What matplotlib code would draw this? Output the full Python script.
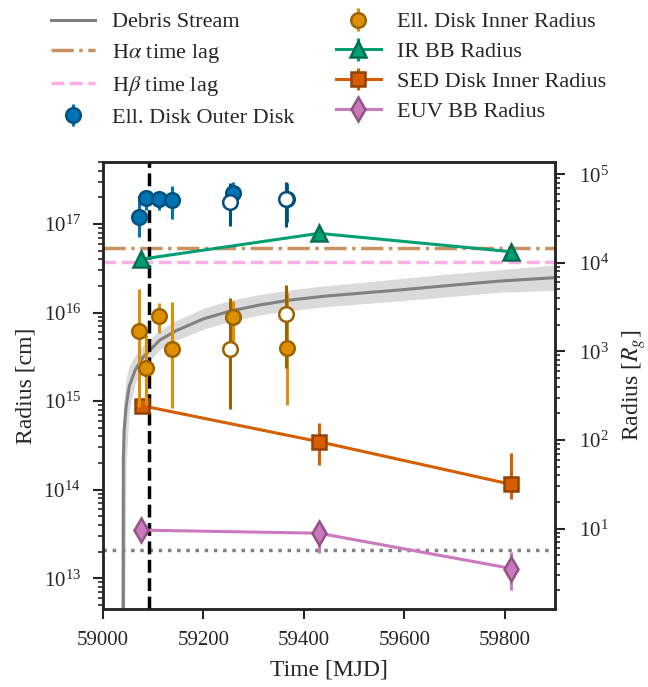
import numpy as np
import matplotlib
matplotlib.use('Agg')
import matplotlib.pyplot as plt
from matplotlib.colors import to_rgb

plt.rcParams['font.family'] = ['Liberation Serif', 'DejaVu Serif']
plt.rcParams['mathtext.fontset'] = 'stix'
plt.rcParams['font.size'] = 15
plt.rcParams['text.color'] = '#262626'
plt.rcParams['axes.labelcolor'] = '#262626'
plt.rcParams['xtick.color'] = '#262626'
plt.rcParams['ytick.color'] = '#262626'

RG_CM = 3.65e12  # gravitational radius in cm
Y_LIM = (4.5e12, 5e17)

# debris stream curve + band
stream_mjd = [59040.3, 59040.5, 59042, 59046, 59052, 59064, 59080, 59113, 59147,
              59200, 59253, 59312, 59372, 59440, 59525, 59600, 59657, 59720,
              59790, 59900]
stream_r = [4e12, 2.2e14, 4.7e14, 8.7e14, 1.46e15, 2.25e15, 3.15e15, 4.9e15,
            6.3e15, 8.5e15, 1.04e16, 1.22e16, 1.385e16, 1.53e16, 1.68e16,
            1.82e16, 1.95e16, 2.1e16, 2.27e16, 2.48e16]
band_mjd = [59034.5, 59037, 59040.5, 59042, 59046, 59052, 59064, 59080, 59113,
            59147, 59200, 59253, 59312, 59372, 59440, 59525, 59600, 59657,
            59720, 59790, 59900]
band_lo = [1e12, 1e12, 1e12, 1e12, 2.0e14, 8.0e14, 1.6e15, 2.4e15, 3.8e15,
           4.9e15, 6.5e15, 8.0e15, 9.4e15, 1.06e16, 1.16e16, 1.27e16, 1.37e16,
           1.46e16, 1.57e16, 1.70e16, 1.78e16]
band_hi = [1e12, 2.5e14, 8e14, 1.1e15, 1.8e15, 2.5e15, 3.3e15, 4.3e15, 6.3e15,
           8.2e15, 1.12e16, 1.38e16, 1.6e16, 1.8e16, 2.0e16, 2.22e16, 2.45e16,
           2.63e16, 2.83e16, 3.05e16, 3.45e16]

HALPHA_LAG = 5.3e16
HBETA_LAG = 3.76e16
ISCO_CM = 2.1e13
T_PEAK = 59091

# elliptical disk fit, outer radius (filled / open = two fits)
outer_mjd = [59071, 59086, 59111, 59137, 59259, 59367]
outer_r = [1.21e17, 1.98e17, 1.90e17, 1.87e17, 2.22e17, 1.90e17]
outer_lo = [7.2e16, 1.45e17, 1.45e17, 1.14e17, 1.86e17, 1.06e17]
outer_hi = [2.1e17, 2.45e17, 2.3e17, 2.7e17, 2.98e17, 2.88e17]
outer2_mjd = [59252, 59364]
outer2_r = [1.79e17, 1.91e17]
outer2_lo = [9.5e16, 9.3e16]
outer2_hi = [2.9e17, 3.0e17]

# elliptical disk fit, inner radius
inner_mjd = [59071, 59085, 59111, 59137, 59259, 59366]
inner_r = [6.2e15, 2.35e15, 9.2e15, 3.86e15, 8.85e15, 3.96e15]
inner_lo = [8.7e14, 9.0e14, 5.9e15, 8.3e14, 4.7e15, 9.06e14]
inner_hi = [1.83e16, 5.6e15, 1.27e16, 1.33e16, 1.36e16, 1.65e16]
inner2_mjd = [59252, 59364]
inner2_r = [3.86e15, 9.6e15]
inner2_lo = [8.1e14, 2.35e15]
inner2_hi = [1.45e16, 2.05e16]

ir_mjd = [59075, 59430, 59813]
ir_r = [4.0e16, 7.85e16, 4.87e16]
ir_lo = [3.8e16, 7.3e16, 4.6e16]
ir_hi = [4.2e16, 8.3e16, 5.1e16]

sed_mjd = [59077, 59430, 59813]
sed_r = [8.9e14, 3.49e14, 1.15e14]
sed_lo = [8.0e14, 1.9e14, 7.8e13]
sed_hi = [9.8e14, 5.6e14, 2.6e14]

euv_mjd = [59076, 59430, 59813]
euv_r = [3.5e13, 3.23e13, 1.29e13]
euv_lo = [3.2e13, 1.95e13, 7.4e12]
euv_hi = [3.8e13, 4.2e13, 2.0e13]


def dark(c, f=0.7):
    return tuple(v * f for v in to_rgb(c))


def yerr(r, lo, hi):
    r = np.asarray(r)
    return [r - np.asarray(lo), np.asarray(hi) - r]


fig = plt.figure(figsize=(6.48, 6.87), dpi=100)
ax = fig.add_axes([0.159, 0.1135, 0.6975, 0.6505])

ax.fill_between(band_mjd, band_lo, band_hi, color='#dadada', lw=0, zorder=1)
h_stream, = ax.plot(stream_mjd, stream_r, color='gray', lw=2.2, zorder=2, label='Debris Stream')
h_ha = ax.axhline(HALPHA_LAG, color='#ca9161', ls='-.', lw=2.5, zorder=2, label=r'H$\alpha$ time lag')
h_hb = ax.axhline(HBETA_LAG, color='#fbafe4', ls='--', lw=2.5, zorder=2, label=r'H$\beta$ time lag')
ax.axhline(ISCO_CM, color='gray', ls=':', lw=2.5, zorder=2)
ax.axvline(T_PEAK, color='black', ls='--', lw=2.5, zorder=3)

blue = '#0173b2'
orange = '#de8f05'
green = '#029e73'
red = '#d55e00'
pink = '#cc78bc'

kw = dict(ms=10.5, mew=1.8, elinewidth=2.2, capsize=0, zorder=5)
h_outer = ax.errorbar(outer_mjd, outer_r, yerr=yerr(outer_r, outer_lo, outer_hi), fmt='o',
                      color=blue, mfc=blue, mec=dark(blue), ecolor=blue,
                      label='Ell. Disk Outer Disk', **kw)
ax.errorbar(outer2_mjd, outer2_r, yerr=yerr(outer2_r, outer2_lo, outer2_hi), fmt='o',
            color=dark(blue), mfc='white', mec=dark(blue), ecolor=dark(blue), **kw)
h_inner = ax.errorbar(inner_mjd, inner_r, yerr=yerr(inner_r, inner_lo, inner_hi), fmt='o',
                      color=orange, mfc=orange, mec=dark(orange), ecolor=orange,
                      label='Ell. Disk Inner Radius', **kw)
ax.errorbar(inner2_mjd, inner2_r, yerr=yerr(inner2_r, inner2_lo, inner2_hi), fmt='o',
            color=dark(orange), mfc='white', mec=dark(orange), ecolor=dark(orange), **kw)

lkw = dict(lw=2.2, elinewidth=2.2, capsize=0, mew=1.8, zorder=4)
h_ir = ax.errorbar(ir_mjd, ir_r, yerr=yerr(ir_r, ir_lo, ir_hi), fmt='-^', color=green,
                   mec=dark(green), ms=11.5, label='IR BB Radius', **lkw)
h_sed = ax.errorbar(sed_mjd, sed_r, yerr=yerr(sed_r, sed_lo, sed_hi), fmt='-s', color=red,
                    mec=dark(red), ms=10.5, label='SED Disk Inner Radius', **lkw)
h_euv = ax.errorbar(euv_mjd, euv_r, yerr=yerr(euv_r, euv_lo, euv_hi), fmt='-d', color=pink,
                    mec=dark(pink), ms=12.5, label='EUV BB Radius', **lkw)

ax.set_yscale('log')
ax.set_xlim(59000, 59900)
ax.set_ylim(*Y_LIM)
ax.set_xticks([59000, 59200, 59400, 59600, 59800])
ax.set_xlabel('Time [MJD]', fontsize=17, labelpad=7)
ax.set_ylabel('Radius [cm]', fontsize=17, labelpad=5)

for s in ax.spines.values():
    s.set_linewidth(1.8)
    s.set_color('#262626')
ax.tick_params(which='major', direction='out', length=7, width=1.5, labelsize=15)
ax.tick_params(axis='y', which='major', pad=9)
ax.tick_params(axis='x', which='major', pad=8.5)
ax.tick_params(which='minor', direction='out', length=3.6, width=1.2)

# right axis in units of R_g
ax2 = ax.twinx()
ax2.set_yscale('log')
ax2.set_ylim(Y_LIM[0] / RG_CM, Y_LIM[1] / RG_CM)
ax2.set_ylabel(r'Radius [$R_g$]', fontsize=17, labelpad=8)
ax2.tick_params(which='major', direction='out', length=7, width=1.5, labelsize=15, pad=10)
ax2.tick_params(which='minor', direction='out', length=3.6, width=1.2)
for s in ax2.spines.values():
    s.set_linewidth(1.8)
    s.set_color('#262626')

handles = [h_stream, h_ha, h_hb, h_outer, h_inner, h_ir, h_sed, h_euv]
fig.legend(handles=handles, labels=[h.get_label() for h in handles], loc='upper center',
           bbox_to_anchor=(0.507, 1.012), ncol=2, frameon=False, fontsize=16,
           handlelength=2.0, handletextpad=0.75, columnspacing=1.9, labelspacing=0.42)

fig.savefig('out.png', dpi=100)
